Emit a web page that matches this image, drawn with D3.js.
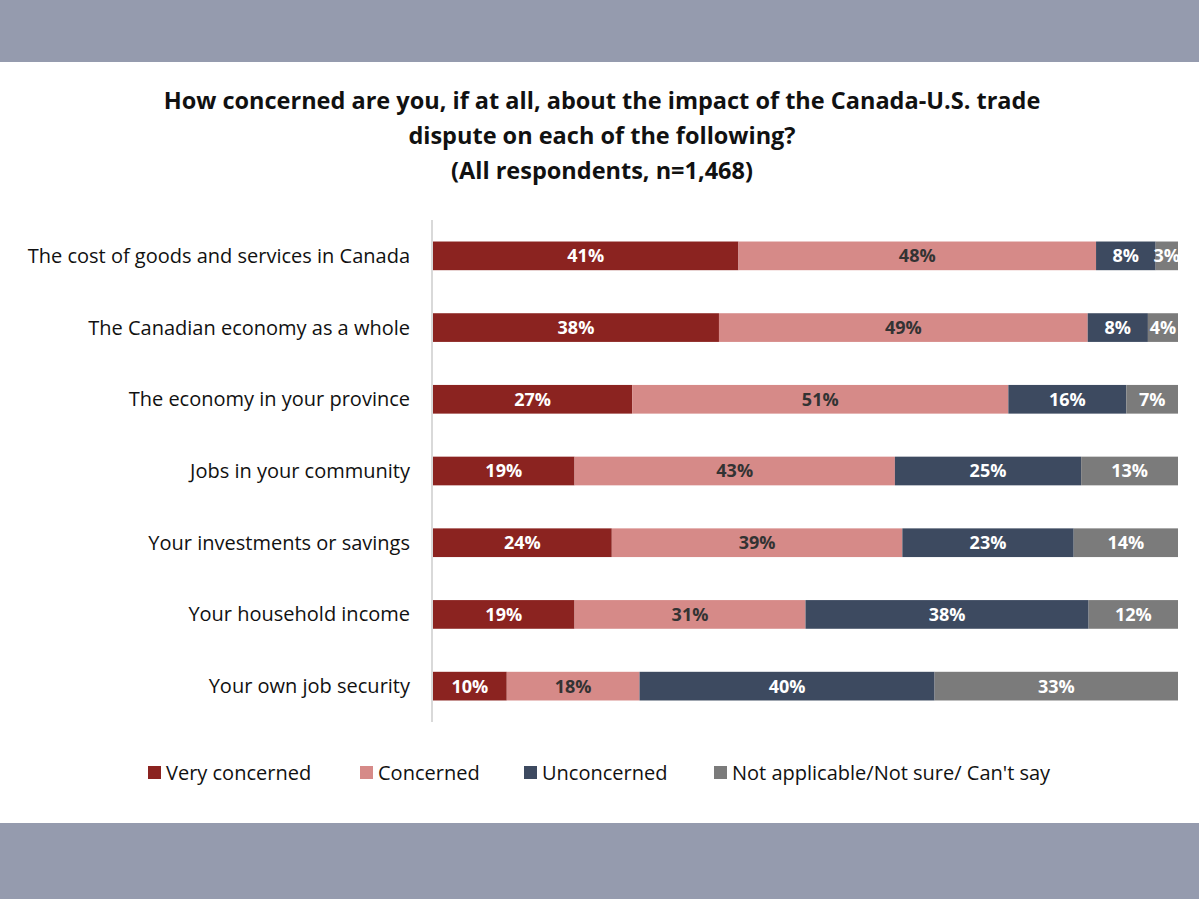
<!DOCTYPE html>
<html><head><meta charset="utf-8">
<script src="https://cdn.jsdelivr.net/npm/d3@7"></script>
<style>body{margin:0;background:#fff}svg{display:block}</style>
</head><body>
<svg id="chart" width="1199" height="899"></svg>
<script>
var categories = ['The cost of goods and services in Canada', 'The Canadian economy as a whole',
  'The economy in your province', 'Jobs in your community', 'Your investments or savings',
  'Your household income', 'Your own job security']
var series = ['Very concerned', 'Concerned', 'Unconcerned', 'Not applicable/Not sure/ Can\'t say']
var veryConcerned = [41, 38, 27, 19, 24, 19, 10]
var concerned = [48, 49, 51, 43, 39, 31, 18]
var unconcerned = [8, 8, 16, 25, 23, 38, 40]
var notSure = [3, 4, 7, 13, 14, 12, 33]
var colors = ['#8b2320', '#d68a88', '#3d4a60', '#7b7b7b']
var textColors = ['#fff', '#333', '#fff', '#fff']

var svg = d3.select('#chart')
var font = '"Open Sans", Lato, sans-serif'

svg.append('rect').attr('width', 1199).attr('height', 62).attr('fill', '#959bae')
svg.append('rect').attr('y', 823).attr('width', 1199).attr('height', 76).attr('fill', '#959bae')

var title = ['How concerned are you, if at all, about the impact of the Canada-U.S. trade',
  'dispute on each of the following?', '(All respondents, n=1,468)']
svg.selectAll('.title').data(title).enter().append('text')
  .attr('x', 602).attr('y', function(d, i) { return 109 + i * 35 })
  .attr('text-anchor', 'middle').attr('font-family', font).attr('font-weight', 'bold')
  .attr('font-size', 23.5).attr('fill', '#111').text(function(d) { return d })

var rows = categories.map(function(c, i) {
  var vals = [veryConcerned[i], concerned[i], unconcerned[i], notSure[i]]
  var total = d3.sum(vals)
  var acc = 0
  return { name: c, segs: vals.map(function(v, k) {
    var s = { k: k, v: v, x0: acc / total, x1: (acc + v) / total }
    acc += v
    return s
  }) }
})

var x = d3.scaleLinear().domain([0, 1]).range([433, 1178])
var y = d3.scaleBand().domain(categories).range([220, 722]).paddingInner(0.6).paddingOuter(0.3)

svg.append('line').attr('x1', 432).attr('x2', 432).attr('y1', 220).attr('y2', 722)
  .attr('stroke', '#ccc').attr('stroke-width', 1.5)

var g = svg.selectAll('.row').data(rows).enter().append('g')
  .attr('transform', function(d) { return 'translate(0,' + y(d.name) + ')' })

g.append('text').attr('x', 410).attr('y', y.bandwidth() / 2).attr('dy', '0.35em')
  .attr('text-anchor', 'end').attr('font-family', font).attr('font-size', 20).attr('fill', '#111')
  .text(function(d) { return d.name })

var seg = g.selectAll('.seg').data(function(d) { return d.segs }).enter()
seg.append('rect')
  .attr('x', function(d) { return x(d.x0) })
  .attr('width', function(d) { return x(d.x1) - x(d.x0) })
  .attr('height', y.bandwidth())
  .attr('fill', function(d) { return colors[d.k] })
seg.append('text')
  .attr('x', function(d) { return (x(d.x0) + x(d.x1)) / 2 })
  .attr('y', y.bandwidth() / 2).attr('dy', '0.36em').attr('text-anchor', 'middle')
  .attr('font-family', font).attr('font-weight', 'bold').attr('font-size', 18)
  .attr('fill', function(d) { return textColors[d.k] })
  .text(function(d) { return d.v + '%' })

var legendX = [148, 360, 524, 714]
var lg = svg.selectAll('.legend').data(series).enter().append('g')
  .attr('transform', function(d, i) { return 'translate(' + legendX[i] + ',773)' })
lg.append('rect').attr('y', -7).attr('width', 13).attr('height', 13)
  .attr('fill', function(d, i) { return colors[i] })
lg.append('text').attr('x', 18).attr('dy', '0.35em').attr('font-family', font)
  .attr('font-size', 20).attr('fill', '#111').text(function(d) { return d })
</script>
</body></html>
